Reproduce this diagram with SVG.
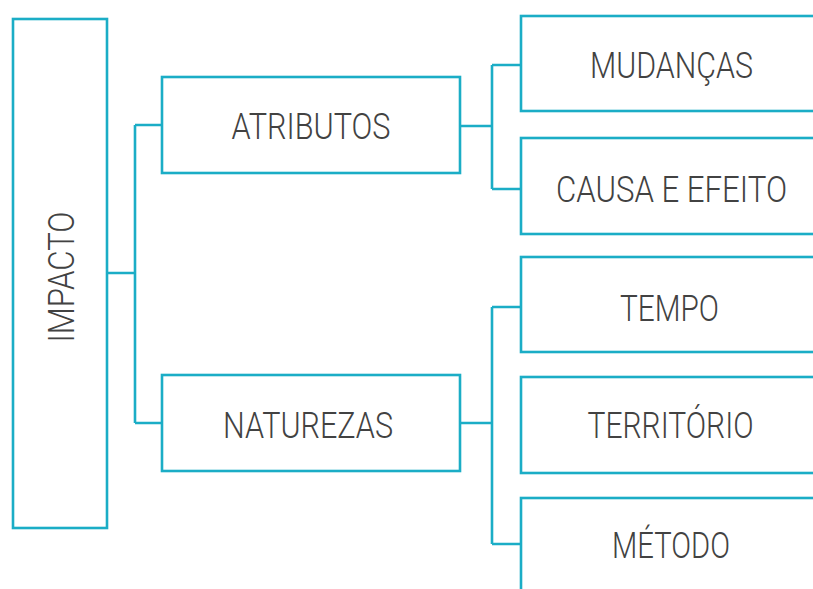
<svg xmlns="http://www.w3.org/2000/svg" width="813" height="589" viewBox="0 0 813 589">
<style>
.box{fill:#fff;stroke:#1badc6;stroke-width:2.6}
.ln{fill:none;stroke:#1badc6;stroke-width:2.6}
.t{font-family:Roboto,"Liberation Sans",sans-serif;font-weight:300;font-size:36px;fill:#424242;text-anchor:middle}
</style>
<rect width="813" height="589" fill="#fff"/>
<g id="connectors">
<path class="ln" d="M107 273H135M135 125V423M135 125H162M135 423H162"/>
<path class="ln" d="M460 126H492M492 65V189M492 65H521M492 189H521"/>
<path class="ln" d="M460 423H492M492 307V544M492 307H521M492 544H521"/>
</g>
<g id="impacto">
<rect class="box" x="13" y="19" width="94" height="509"/>
<text class="t" transform="translate(74 277) rotate(-90)" x="0" y="0" textLength="131" lengthAdjust="spacingAndGlyphs">IMPACTO</text>
</g>
<g id="atributos">
<rect class="box" x="162" y="77" width="298" height="96"/>
<text class="t" x="311" y="139" textLength="159" lengthAdjust="spacingAndGlyphs">ATRIBUTOS</text>
</g>
<g id="naturezas">
<rect class="box" x="162" y="375" width="298" height="96"/>
<text class="t" x="308" y="437.5" textLength="170" lengthAdjust="spacingAndGlyphs">NATUREZAS</text>
</g>
<g id="mudancas">
<rect class="box" x="521" y="16" width="300" height="95"/>
<text class="t" x="671.5" y="78" textLength="163" lengthAdjust="spacingAndGlyphs">MUDANÇAS</text>
</g>
<g id="causa">
<rect class="box" x="521" y="138" width="300" height="96"/>
<text class="t" x="671.5" y="201.5" textLength="231" lengthAdjust="spacingAndGlyphs">CAUSA E EFEITO</text>
</g>
<g id="tempo">
<rect class="box" x="521" y="257" width="300" height="95"/>
<text class="t" x="669.5" y="320.5" textLength="99" lengthAdjust="spacingAndGlyphs">TEMPO</text>
</g>
<g id="territorio">
<rect class="box" x="521" y="377" width="300" height="96"/>
<text class="t" x="670.5" y="438" textLength="166" lengthAdjust="spacingAndGlyphs">TERRITÓRIO</text>
</g>
<g id="metodo">
<rect class="box" x="521" y="498" width="300" height="96"/>
<text class="t" x="671" y="557.5" textLength="118" lengthAdjust="spacingAndGlyphs">MÉTODO</text>
</g>
</svg>
